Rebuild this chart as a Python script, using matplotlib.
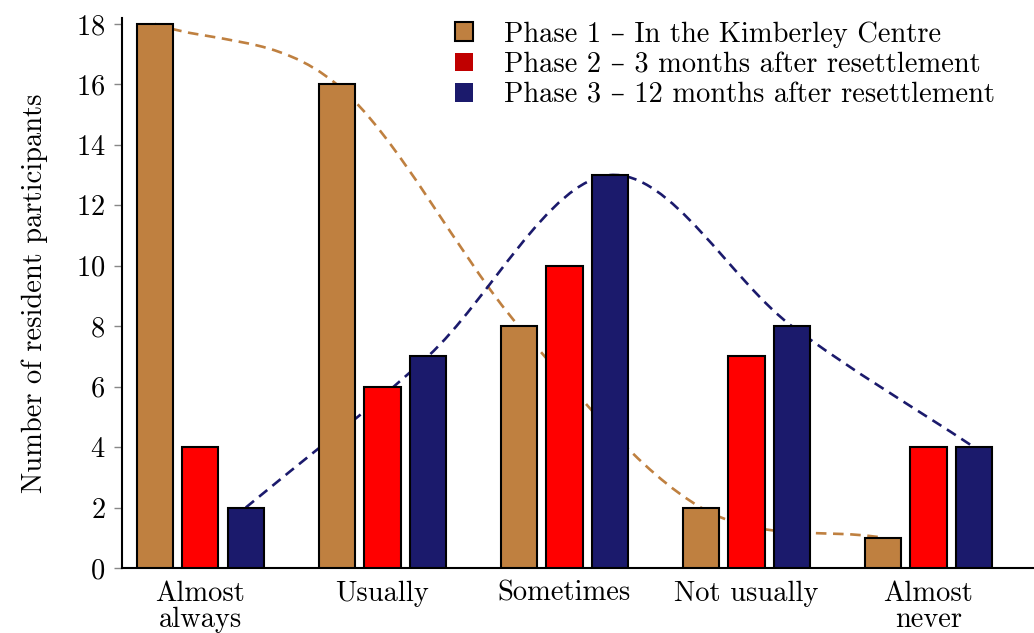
import matplotlib
matplotlib.use("Agg")
import matplotlib.pyplot as plt
from matplotlib.path import Path
from matplotlib.patches import PathPatch, Patch
import numpy as np

# data
categories = ['Almost\nalways', 'Usually', 'Sometimes', 'Not usually', 'Almost\nnever']
phase1 = [18, 16, 8, 2, 1]
phase2 = [4, 6, 10, 7, 4]
phase3 = [2, 7, 13, 8, 4]
labels = ['Phase 1 – In the Kimberley Centre',
          'Phase 2 – 3 months after resettlement',
          'Phase 3 – 12 months after resettlement']

brown = '#BF8040'
red = '#FF0000'
navy = '#1B1A6C'
fs = 20.5

plt.rcParams['font.family'] = ['cmr10', 'DejaVu Serif']
plt.rcParams['mathtext.fontset'] = 'cm'
plt.rcParams['axes.formatter.use_mathtext'] = True


def smooth_path(xs, ys):
    # Catmull-Rom through the points, turned into cubic Bezier segments
    pts = np.column_stack([xs, ys]).astype(float)
    ext = np.vstack([pts[0] - (pts[1] - pts[0]), pts, pts[-1] + (pts[-1] - pts[-2])])
    verts = [pts[0]]
    codes = [Path.MOVETO]
    for i in range(1, len(ext) - 2):
        p0, p1, p2, p3 = ext[i - 1], ext[i], ext[i + 1], ext[i + 2]
        verts += [p1 + (p2 - p0) / 6.0, p2 - (p3 - p1) / 6.0, p2]
        codes += [Path.CURVE4] * 3
    return Path(verts, codes)


fig = plt.figure(figsize=(10.34, 6.33), dpi=100)
ax = fig.add_axes([0.118, 0.1027, 0.882, 0.869])

x = np.arange(len(categories))
w = 0.2
off = 0.25

# trend curves (behind the bars)
for vals, dx, col in [(phase1, -off, brown), (phase3, off, navy)]:
    pp = PathPatch(smooth_path(x + dx, vals), facecolor='none', edgecolor=col,
                   lw=1.9, linestyle=(0, (4, 2.5)), zorder=2)
    ax.add_patch(pp)

ax.bar(x - off, phase1, w, color=brown, edgecolor='black', lw=1.5, zorder=3)
ax.bar(x, phase2, w, color=red, edgecolor='black', lw=1.5, zorder=3)
ax.bar(x + off, phase3, w, color=navy, edgecolor='black', lw=1.5, zorder=3)

ax.set_xlim(-0.43, 4.58)
ax.set_ylim(0, 18.2)
ax.set_yticks(np.arange(0, 19, 2))
ax.set_xticks(x)
ax.set_xticklabels(categories, fontsize=fs, linespacing=1.0)
ax.tick_params(axis='x', length=0, pad=9)
ax.tick_params(axis='y', length=6, width=1, color='#888888', labelsize=fs, pad=6)
ax.set_ylabel('Number of resident participants', fontsize=fs, labelpad=20)

for s in ['top', 'right']:
    ax.spines[s].set_visible(False)
ax.spines['left'].set_linewidth(1.5)
ax.spines['bottom'].set_linewidth(1.5)

handles = [Patch(facecolor=brown, edgecolor='black', lw=1.5),
           Patch(facecolor='#C00000', edgecolor='none'),
           Patch(facecolor=navy, edgecolor='none')]
fig.legend(handles, labels, loc='upper left', bbox_to_anchor=(0.421, 0.998),
           frameon=False, fontsize=fs, handlelength=0.62, handleheight=0.62,
           handletextpad=1.1, labelspacing=0.14, borderpad=0.2)

fig.savefig('out.png', dpi=100)
